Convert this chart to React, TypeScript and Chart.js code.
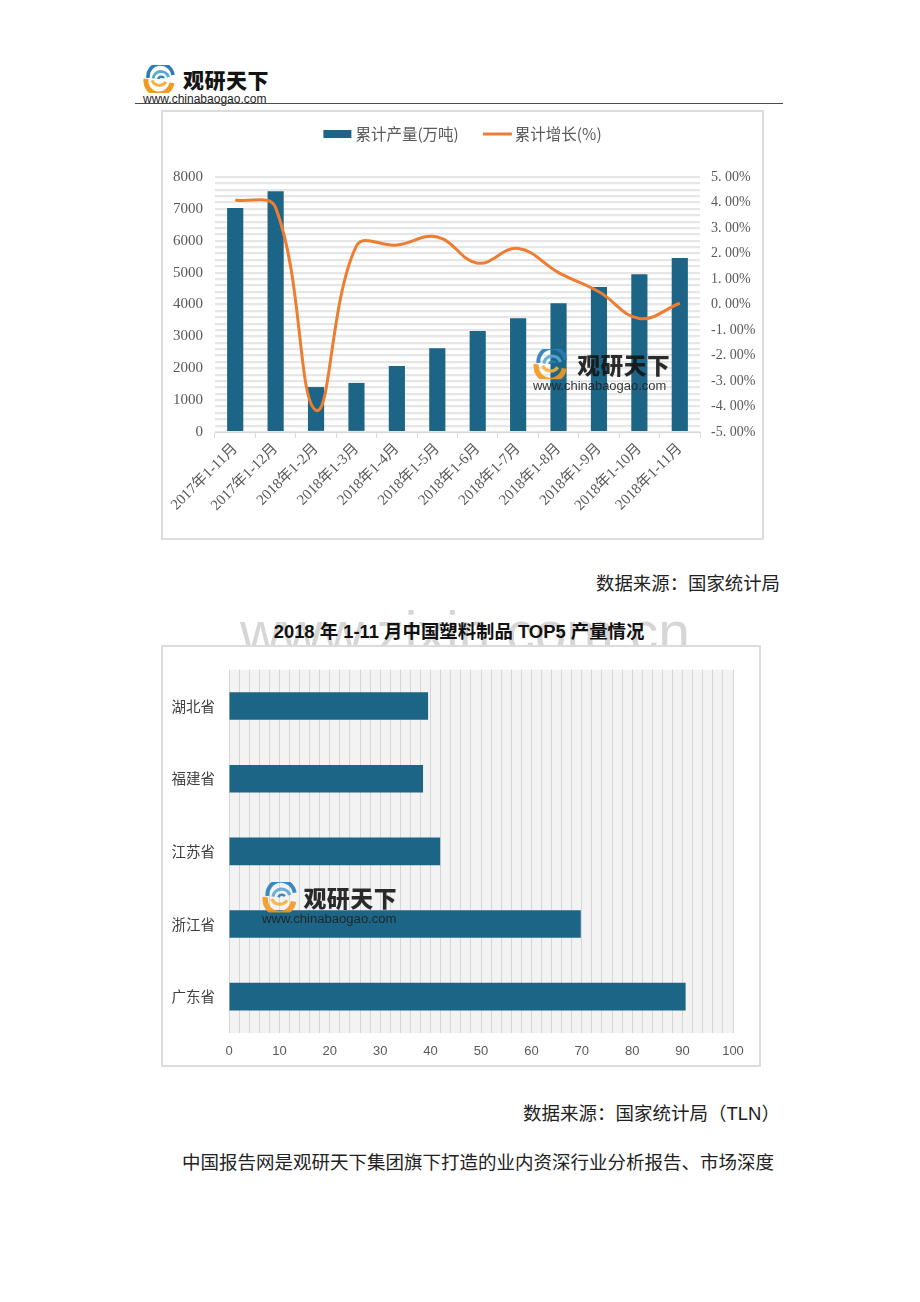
import React, { useEffect, useRef } from 'react';
import { Chart, registerables } from 'chart.js';

Chart.register(...registerables);

// ---------- data ----------
const periods = [
  '2017年1-11月', '2017年1-12月', '2018年1-2月', '2018年1-3月', '2018年1-4月', '2018年1-5月',
  '2018年1-6月', '2018年1-7月', '2018年1-8月', '2018年1-9月', '2018年1-10月', '2018年1-11月',
];
const outputLabel = '累计产量(万吨)';
const growthLabel = '累计增长(%)';
const outputValues = [7030, 7550, 1410, 1540, 2070, 2630, 3170, 3570, 4040, 4550, 4950, 5460];
const growthValues = [4.1, 3.8, -4.15, 2.3, 2.33, 2.65, 1.62, 2.2, 1.25, 0.5, -0.55, 0.05];

const provinces = ['湖北省', '福建省', '江苏省', '浙江省', '广东省'];
const provinceValues = [39.5, 38.5, 41.9, 69.8, 90.6];

const BLUE = '#1c6587';
const ORANGE = '#ed7d31';
const CJK = '"Noto Sans CJK SC", "Noto Sans", sans-serif';
const SERIF = '"Liberation Serif", "Noto Sans CJK SC", serif';

// ---------- plugins ----------
const legendPlugin = {
  id: 'topLegend',
  afterDraw(chart: any) {
    const ctx = chart.ctx;
    const y = 22;
    ctx.save();
    ctx.font = `15.5px ${CJK}`;
    ctx.textBaseline = 'middle';
    const ds = chart.data.datasets;
    const barDs = ds.find((d: any) => d.type === 'bar');
    const lineDs = ds.find((d: any) => d.type === 'line');
    const w1 = ctx.measureText(barDs.label).width;
    const w2 = ctx.measureText(lineDs.label).width;
    const total = 28 + 4 + w1 + 24 + 29 + 3 + w2;
    let x = chart.width / 2 - total / 2;
    ctx.fillStyle = barDs.backgroundColor;
    ctx.fillRect(x, y - 4, 28, 8);
    x += 32;
    ctx.fillStyle = '#595959';
    ctx.fillText(barDs.label, x, y);
    x += w1 + 24;
    ctx.strokeStyle = lineDs.borderColor;
    ctx.lineWidth = 3;
    ctx.beginPath();
    ctx.moveTo(x, y);
    ctx.lineTo(x + 29, y);
    ctx.stroke();
    x += 32;
    ctx.fillText(lineDs.label, x, y);
    ctx.restore();
  },
};

const bgPlugin = (color: string) => ({
  id: 'areaBg',
  beforeDraw(chart: any) {
    const { ctx, chartArea } = chart;
    ctx.save();
    ctx.fillStyle = color;
    ctx.fillRect(chartArea.left, chartArea.top, chartArea.right - chartArea.left, chartArea.bottom - chartArea.top);
    ctx.restore();
  },
});

const fmtPct = (v: number) => {
  const s = Math.abs(v).toFixed(2).replace('.', '. ');
  return (v < 0 ? '-' : '') + s + '%';
};

// ---------- components ----------
function Icon({ w = 34 }: { w?: number }) {
  return (
    <svg width={w} height={w * 0.82} viewBox="0 0 34 28" style={{ position: 'absolute', left: 0, top: 0 }}>
      <path d="M5 13 A12.5 12.5 0 0 1 30 10" fill="none" stroke="#2a7db8" strokeWidth="3.6" />
      <path d="M10 13.5 A8 8 0 0 1 25.5 12" fill="none" stroke="#58a8d8" strokeWidth="3" />
      <path d="M15 14 A3.5 3.5 0 0 1 21 13" fill="none" stroke="#2a7db8" strokeWidth="2.4" />
      <path d="M3 14 A13 13 0 0 0 29 18" fill="none" stroke="#f29a1f" strokeWidth="5" />
      <path d="M9 15.5 A8 8 0 0 0 23 17" fill="none" stroke="#f6b23c" strokeWidth="3" />
    </svg>
  );
}

function Logo({ x, y, textLeft, scale = 1, opacity = 1 }: { x: number; y: number; textLeft: number; scale?: number; opacity?: number }) {
  return (
    <div style={{ position: 'absolute', left: x, top: y, width: 140, height: 40, opacity, transform: `scale(${scale})`, transformOrigin: '0 0', pointerEvents: 'none' }}>
      <Icon />
      <div style={{ position: 'absolute', left: textLeft, top: 1, fontSize: 21, fontWeight: 900, fontFamily: CJK, lineHeight: '26px', letterSpacing: 0.5, color: '#141414', whiteSpace: 'nowrap' }}>观研天下</div>
      <div style={{ position: 'absolute', left: 0, top: 27, fontSize: 12, fontFamily: '"Liberation Sans", Arial, sans-serif', lineHeight: '14px', color: '#222', whiteSpace: 'nowrap' }}>www.chinabaogao.com</div>
    </div>
  );
}

function ComboChart() {
  const ref = useRef<HTMLCanvasElement>(null);
  useEffect(() => {
    if (!ref.current) return;
    const chart = new Chart(ref.current, {
      type: 'bar',
      data: {
        labels: periods,
        datasets: [
          {
            type: 'line', label: growthLabel, data: growthValues, yAxisID: 'y1',
            borderColor: ORANGE, backgroundColor: ORANGE, borderWidth: 3, tension: 0.4,
            pointRadius: 0, order: 0,
          } as any,
          {
            type: 'bar', label: outputLabel, data: outputValues, yAxisID: 'y',
            backgroundColor: BLUE, barPercentage: 0.5, categoryPercentage: 0.8, order: 1,
          } as any,
        ],
      },
      options: {
        responsive: false,
        animation: false,
        layout: { padding: { top: 65, left: 0, right: 0, bottom: 0 } },
        plugins: { legend: { display: false }, tooltip: { enabled: false } },
        scales: {
          x: {
            grid: { display: true, drawOnChartArea: false, color: '#d9d9d9', tickLength: 6, offset: true },
            border: { color: '#d9d9d9' },
            ticks: { minRotation: 45, maxRotation: 45, autoSkip: false, color: '#595959', padding: 2, font: { family: SERIF, size: 15 } },
            afterFit: (s: any) => { s.height = 106; },
          },
          y: {
            position: 'left', min: 0, max: 8000,
            ticks: {
              stepSize: 200, autoSkip: false, padding: 12, color: '#595959',
              font: { family: SERIF, size: 15 },
              callback: (v: any) => (Number(v) % 1000 === 0 ? String(v) : ''),
            },
            grid: { color: '#e6e6e6', lineWidth: 2.2, drawTicks: false },
            border: { display: false },
            afterFit: (s: any) => { s.width = 52; },
          },
          y1: {
            position: 'right', min: -5, max: 5,
            ticks: { stepSize: 1, padding: 11, color: '#595959', font: { family: SERIF, size: 14 }, callback: (v: any) => fmtPct(Number(v)) },
            grid: { drawOnChartArea: false, drawTicks: false },
            border: { display: false },
            afterFit: (s: any) => { s.width = 62; },
          },
        },
      } as any,
      plugins: [legendPlugin],
    });
    return () => chart.destroy();
  }, []);
  return <canvas ref={ref} width={599} height={426} style={{ display: 'block', width: 599, height: 426 }} />;
}

function ProvinceChart() {
  const ref = useRef<HTMLCanvasElement>(null);
  useEffect(() => {
    if (!ref.current) return;
    const chart = new Chart(ref.current, {
      type: 'bar',
      data: {
        labels: provinces,
        datasets: [{ label: '产量', data: provinceValues, backgroundColor: BLUE, barPercentage: 0.38, categoryPercentage: 1 }],
      },
      options: {
        indexAxis: 'y',
        responsive: false,
        animation: false,
        layout: { padding: { top: 15, right: 26, left: 0, bottom: 0 } },
        plugins: { legend: { display: false }, tooltip: { enabled: false } },
        scales: {
          x: {
            min: 0, max: 100,
            ticks: {
              stepSize: 2, autoSkip: false, padding: 11, color: '#595959', maxRotation: 0,
              font: { family: '"Liberation Sans", sans-serif', size: 13 },
              callback: (v: any) => (Number(v) % 10 === 0 ? String(v) : ''),
            },
            grid: { color: '#d6d6d6', lineWidth: 1, drawTicks: false },
            border: { display: false },
            afterFit: (s: any) => { s.height = 32; },
          },
          y: {
            ticks: { padding: 14, color: '#404040', font: { family: CJK, size: 14.5 } },
            grid: { display: false, drawTicks: false },
            border: { display: false },
            afterFit: (s: any) => { s.width = 66; },
          },
        },
      } as any,
      plugins: [bgPlugin('#f3f3f3')],
    });
    return () => chart.destroy();
  }, []);
  return <canvas ref={ref} width={596} height={418} style={{ display: 'block', width: 596, height: 418 }} />;
}

export default function App() {
  return (
    <div style={{ position: 'absolute', left: 0, top: 0, width: 920, height: 1302, background: '#fff', overflow: 'hidden', fontFamily: CJK }}>
      {/* header */}
      <Logo x={143} y={65} textLeft={40} />
      <div style={{ position: 'absolute', left: 135, top: 103, width: 648, height: 0, borderTop: '1.5px solid #4a4a4a' }} />

      {/* chart 1 */}
      <div style={{ position: 'absolute', left: 161, top: 110, width: 603, height: 430, boxSizing: 'border-box', border: '2px solid #dcdcdc', background: '#fff' }}>
        <ComboChart />
      </div>
      <Logo x={533} y={349} textLeft={41} scale={1.08} opacity={0.9} />

      <div style={{ position: 'absolute', right: 140, top: 571, fontSize: 18.4, lineHeight: '22px', color: '#222', whiteSpace: 'nowrap' }}>数据来源：国家统计局</div>

      {/* watermark + title */}
      <div style={{ position: 'absolute', left: 465, top: 602, transform: 'translateX(-50%)', fontFamily: '"Liberation Sans", sans-serif', fontSize: 57, lineHeight: '60px', color: '#d6d6d6', whiteSpace: 'nowrap' }}>www.zixin.com.cn</div>
      <div style={{ position: 'absolute', left: 459, top: 620, transform: 'translateX(-50%)', fontFamily: '"Liberation Sans", "Noto Sans CJK SC", sans-serif', fontWeight: 700, fontSize: 18.4, lineHeight: '24px', color: '#111', whiteSpace: 'nowrap' }}>2018 年 1-11 月中国塑料制品 TOP5 产量情况</div>

      {/* chart 2 */}
      <div style={{ position: 'absolute', left: 161, top: 645, width: 600, height: 422, boxSizing: 'border-box', border: '2px solid #dcdcdc', background: '#fff' }}>
        <ProvinceChart />
      </div>
      <Logo x={262} y={882} textLeft={38} scale={1.09} opacity={0.9} />

      <div style={{ position: 'absolute', right: 140, top: 1101, fontSize: 18.5, lineHeight: '22px', color: '#222', whiteSpace: 'nowrap' }}>数据来源：国家统计局（<span style={{ fontFamily: '"Liberation Sans", sans-serif' }}>TLN</span>）</div>

      <div style={{ position: 'absolute', left: 182, top: 1150, fontSize: 18.5, lineHeight: '22px', color: '#222', whiteSpace: 'nowrap' }}>中国报告网是观研天下集团旗下打造的业内资深行业分析报告、市场深度</div>
    </div>
  );
}
